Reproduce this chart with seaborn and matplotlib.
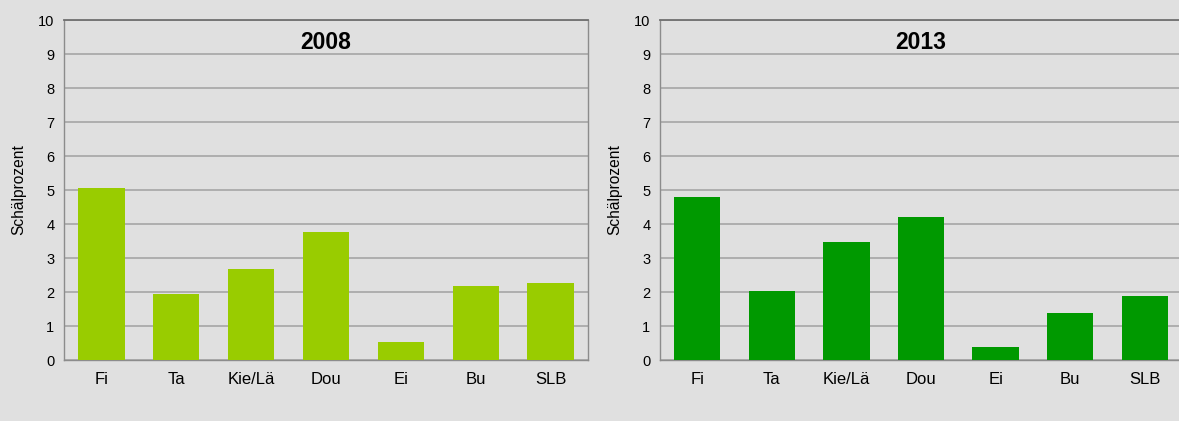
import numpy as np
import pandas as pd
import matplotlib
matplotlib.use("Agg")
import matplotlib.pyplot as plt
import seaborn as sns

# data
species = ["Fi", "Ta", "Kie/Lä", "Dou", "Ei", "Bu", "SLB"]
values_2008 = [5.05, 1.95, 2.68, 3.77, 0.52, 2.17, 2.27]
values_2013 = [4.78, 2.02, 3.47, 4.22, 0.39, 1.37, 1.87]
years = ["2008", "2013"]
colors = ["#99CC00", "#009900"]

sns.set_style("white")
plt.rcParams["font.family"] = ["Liberation Sans", "DejaVu Sans"]

bg = "#E0E0E0"
fig = plt.figure(figsize=(11.79, 4.21), dpi=100, facecolor=bg)

# axes positions in figure fraction (left, bottom, width, height)
W, H = 1179, 421
boxes = [
    (64 / W, (H - 360) / H, 524 / W, 340 / H),
    (660 / W, (H - 360) / H, 522 / W, 340 / H),
]

for vals, year, col, box in zip([values_2008, values_2013], years, colors, boxes):
    ax = fig.add_axes(box)
    ax.set_facecolor(bg)
    df = pd.DataFrame({"Art": species, "Schälprozent": vals})
    sns.barplot(data=df, x="Art", y="Schälprozent", color=col, saturation=1,
                width=0.62, linewidth=0, ax=ax, zorder=3)

    ax.set_ylim(0, 10)
    ax.set_xlim(-0.5, 6.5)
    ax.set_yticks(range(0, 11))
    ax.yaxis.grid(True, color="#A6A6A6", linewidth=1.2, zorder=0)
    ax.set_axisbelow(True)

    ax.tick_params(axis="y", length=4, width=1, color="#8C8C8C", labelsize=10.5,
                   pad=3, labelcolor="black")
    ax.tick_params(axis="x", which="major", length=0, labelsize=12, pad=9,
                   labelcolor="black")
    ax.set_xticks(np.arange(-0.5, 7, 1), minor=True)
    ax.tick_params(axis="x", which="minor", length=5, width=1, color="#A0A0A0")

    for s in ["left", "bottom", "right"]:
        ax.spines[s].set_color("#8C8C8C")
        ax.spines[s].set_linewidth(1)
    ax.spines["top"].set_color("#707070")
    ax.spines["top"].set_linewidth(1.3)

    ax.set_xlabel("")
    ax.set_ylabel("Schälprozent", fontsize=11.2, color="black")
    ax.yaxis.set_label_coords(-0.072, 0.5)
    ax.text(0.5, 0.935, year, transform=ax.transAxes, ha="center", va="center",
            fontsize=16.5, fontweight="bold", color="black")

fig.savefig("out.png", dpi=100, facecolor=bg)
